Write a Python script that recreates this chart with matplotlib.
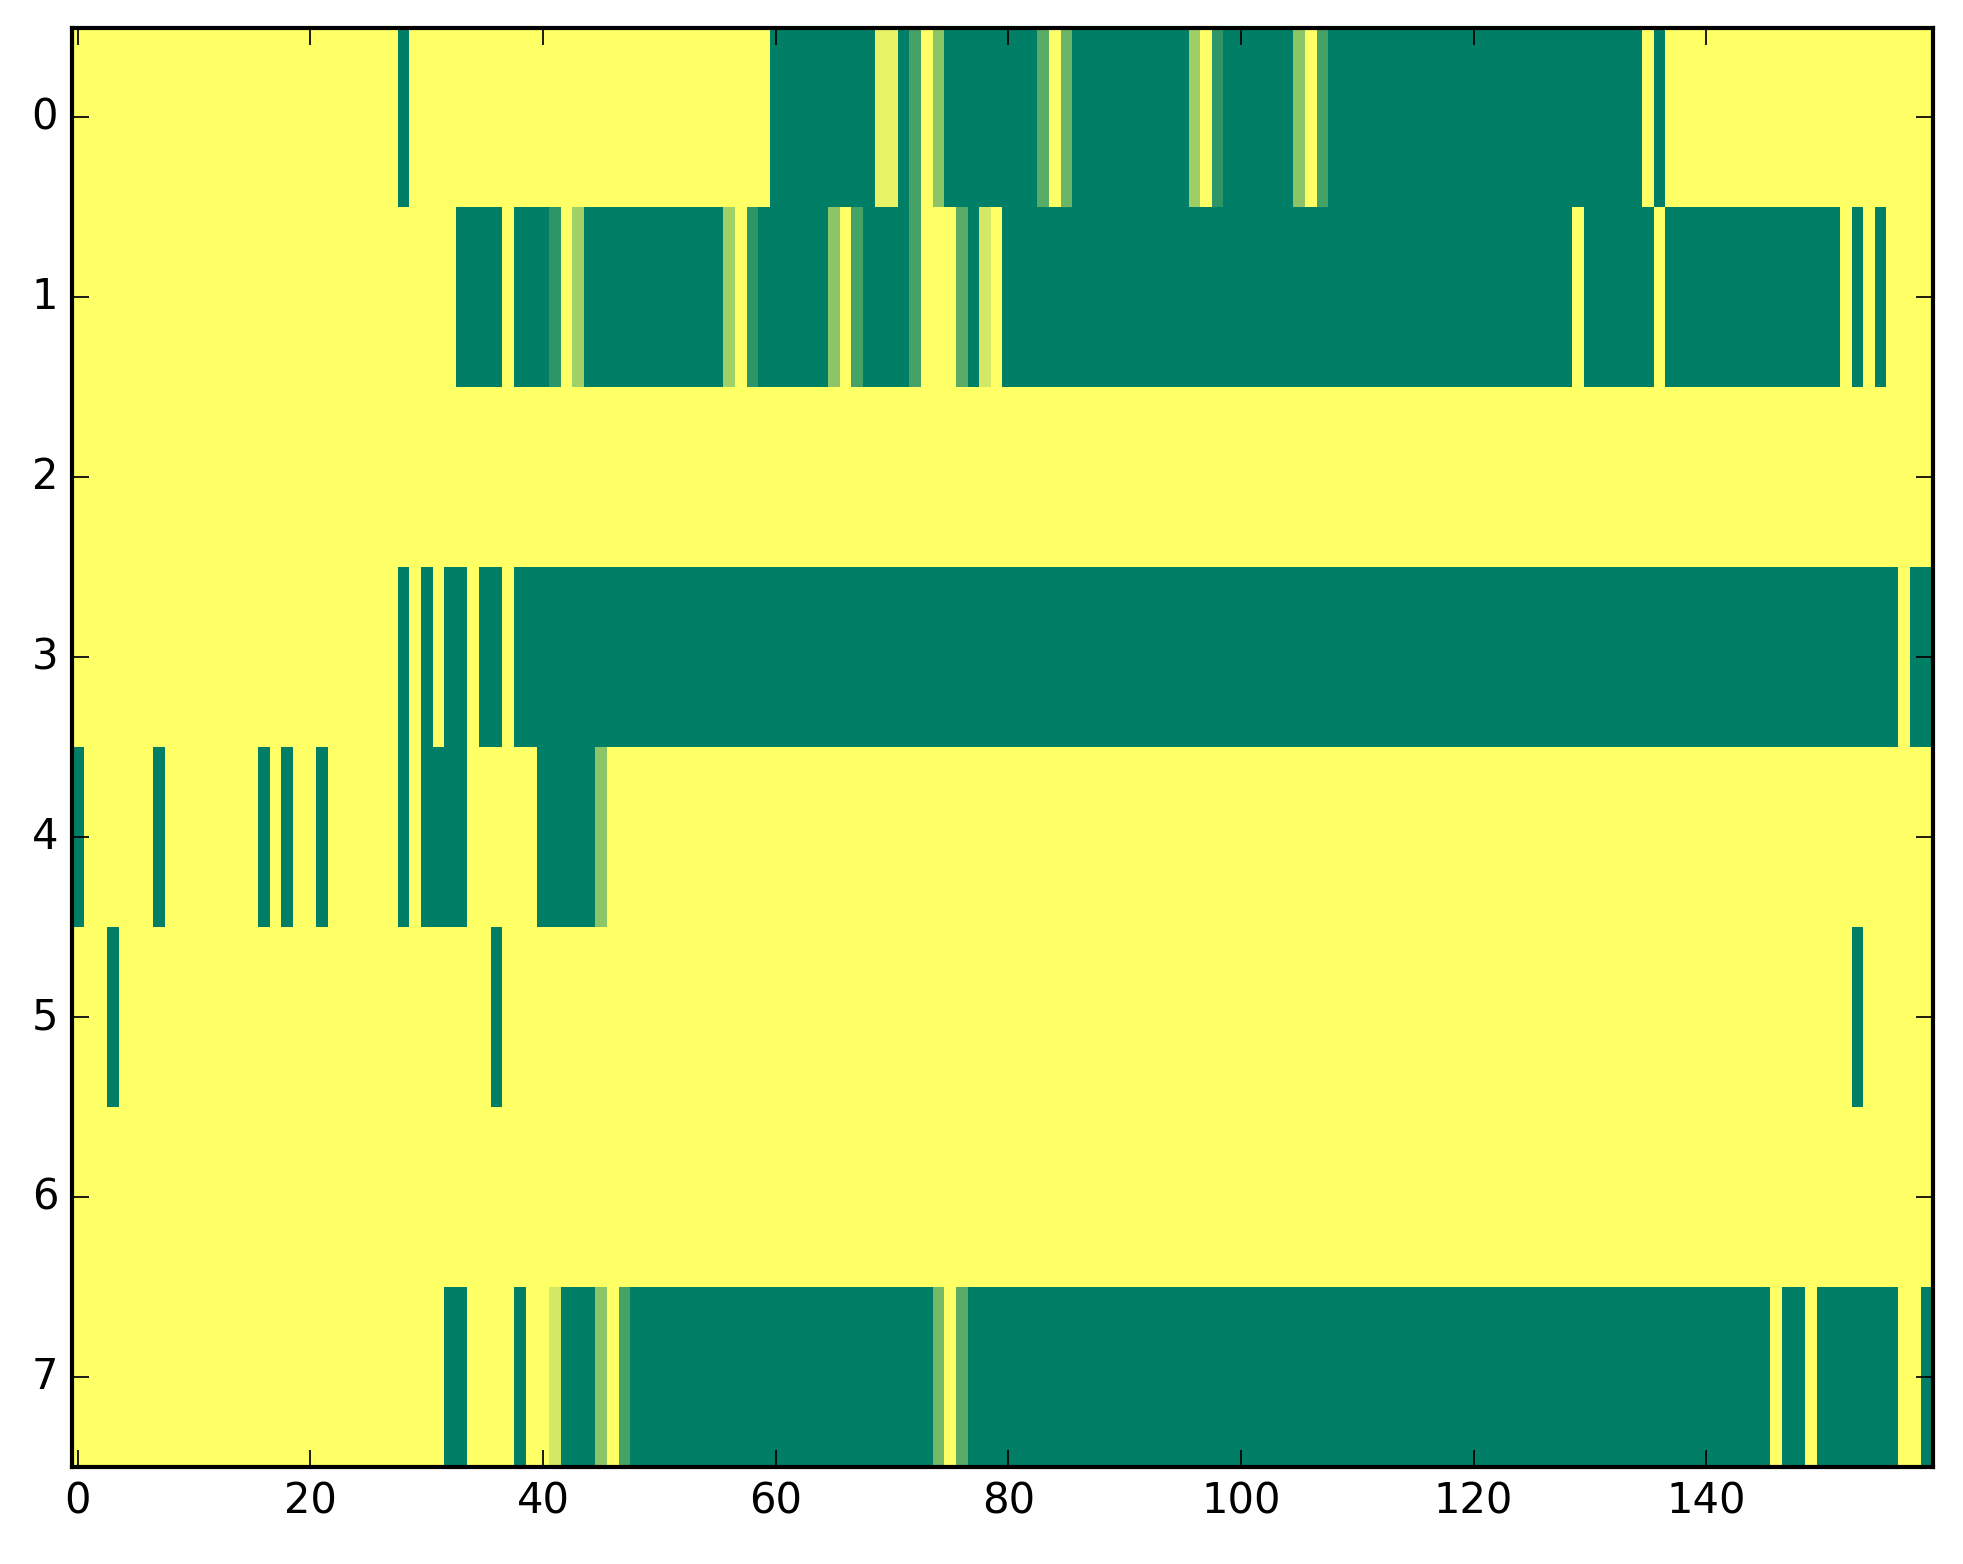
import numpy as np
import matplotlib
matplotlib.use("Agg")
import matplotlib.pyplot as plt

# valores, 8 filas x 160 columnas (0 = verde, 1 = amarillo)
fila0 = [1, 1, 1, 1, 1, 1, 1, 1, 1, 1, 1, 1, 1, 1, 1, 1, 1, 1, 1, 1,
         1, 1, 1, 1, 1, 1, 1, 1, 0, 1, 1, 1, 1, 1, 1, 1, 1, 1, 1, 1,
         1, 1, 1, 1, 1, 1, 1, 1, 1, 1, 1, 1, 1, 1, 1, 1, 1, 1, 1, 1,
         0, 0, 0, 0, 0, 0, 0, 0, 0, .91, .91, 0, .27, 1, .55, 0, 0, 0, 0, 0,
         0, 0, 0, .35, 1, .42, 0, 0, 0, 0, 0, 0, 0, 0, 0, 0, .62, 1, .18, 0,
         0, 0, 0, 0, 0, .55, 1, .27, 0, 0, 0, 0, 0, 0, 0, 0, 0, 0, 0, 0,
         0, 0, 0, 0, 0, 0, 0, 0, 0, 0, 0, 0, 0, 0, 0, 1, 0, 1, 1, 1,
         1, 1, 1, 1, 1, 1, 1, 1, 1, 1, 1, 1, 1, 1, 1, 1, 1, 1, 1, 1]
fila1 = [1, 1, 1, 1, 1, 1, 1, 1, 1, 1, 1, 1, 1, 1, 1, 1, 1, 1, 1, 1,
         1, 1, 1, 1, 1, 1, 1, 1, 1, 1, 1, 1, 1, 0, 0, 0, 0, 1, 0, 0,
         0, .18, 1, .63, 0, 0, 0, 0, 0, 0, 0, 0, 0, 0, 0, 0, .63, 1, .18, 0,
         0, 0, 0, 0, 0, .55, 1, .27, 0, 0, 0, 0, .27, 1, 1, 1, .35, 0, .83, 1,
         0, 0, 0, 0, 0, 0, 0, 0, 0, 0, 0, 0, 0, 0, 0, 0, 0, 0, 0, 0,
         0, 0, 0, 0, 0, 0, 0, 0, 0, 0, 0, 0, 0, 0, 0, 0, 0, 0, 0, 0,
         0, 0, 0, 0, 0, 0, 0, 0, 0, 1, 0, 0, 0, 0, 0, 0, 1, 0, 0, 0,
         0, 0, 0, 0, 0, 0, 0, 0, 0, 0, 0, 0, 1, 0, 1, 0, 1, 1, 1, 1]
fila2 = [1, 1, 1, 1, 1, 1, 1, 1, 1, 1, 1, 1, 1, 1, 1, 1, 1, 1, 1, 1,
         1, 1, 1, 1, 1, 1, 1, 1, 1, 1, 1, 1, 1, 1, 1, 1, 1, 1, 1, 1,
         1, 1, 1, 1, 1, 1, 1, 1, 1, 1, 1, 1, 1, 1, 1, 1, 1, 1, 1, 1,
         1, 1, 1, 1, 1, 1, 1, 1, 1, 1, 1, 1, 1, 1, 1, 1, 1, 1, 1, 1,
         1, 1, 1, 1, 1, 1, 1, 1, 1, 1, 1, 1, 1, 1, 1, 1, 1, 1, 1, 1,
         1, 1, 1, 1, 1, 1, 1, 1, 1, 1, 1, 1, 1, 1, 1, 1, 1, 1, 1, 1,
         1, 1, 1, 1, 1, 1, 1, 1, 1, 1, 1, 1, 1, 1, 1, 1, 1, 1, 1, 1,
         1, 1, 1, 1, 1, 1, 1, 1, 1, 1, 1, 1, 1, 1, 1, 1, 1, 1, 1, 1]
fila3 = [1, 1, 1, 1, 1, 1, 1, 1, 1, 1, 1, 1, 1, 1, 1, 1, 1, 1, 1, 1,
         1, 1, 1, 1, 1, 1, 1, 1, 0, 1, 0, 1, 0, 0, 1, 0, 0, 1, 0, 0,
         0, 0, 0, 0, 0, 0, 0, 0, 0, 0, 0, 0, 0, 0, 0, 0, 0, 0, 0, 0,
         0, 0, 0, 0, 0, 0, 0, 0, 0, 0, 0, 0, 0, 0, 0, 0, 0, 0, 0, 0,
         0, 0, 0, 0, 0, 0, 0, 0, 0, 0, 0, 0, 0, 0, 0, 0, 0, 0, 0, 0,
         0, 0, 0, 0, 0, 0, 0, 0, 0, 0, 0, 0, 0, 0, 0, 0, 0, 0, 0, 0,
         0, 0, 0, 0, 0, 0, 0, 0, 0, 0, 0, 0, 0, 0, 0, 0, 0, 0, 0, 0,
         0, 0, 0, 0, 0, 0, 0, 0, 0, 0, 0, 0, 0, 0, 0, 0, 0, 1, 0, 0]
fila4 = [0, 1, 1, 1, 1, 1, 1, 0, 1, 1, 1, 1, 1, 1, 1, 1, 0, 1, 0, 1,
         1, 0, 1, 1, 1, 1, 1, 1, 0, 1, 0, 0, 0, 0, 1, 1, 1, 1, 1, 1,
         0, 0, 0, 0, 0, .55, 1, 1, 1, 1, 1, 1, 1, 1, 1, 1, 1, 1, 1, 1,
         1, 1, 1, 1, 1, 1, 1, 1, 1, 1, 1, 1, 1, 1, 1, 1, 1, 1, 1, 1,
         1, 1, 1, 1, 1, 1, 1, 1, 1, 1, 1, 1, 1, 1, 1, 1, 1, 1, 1, 1,
         1, 1, 1, 1, 1, 1, 1, 1, 1, 1, 1, 1, 1, 1, 1, 1, 1, 1, 1, 1,
         1, 1, 1, 1, 1, 1, 1, 1, 1, 1, 1, 1, 1, 1, 1, 1, 1, 1, 1, 1,
         1, 1, 1, 1, 1, 1, 1, 1, 1, 1, 1, 1, 1, 1, 1, 1, 1, 1, 1, 1]
fila5 = [1, 1, 1, 0, 1, 1, 1, 1, 1, 1, 1, 1, 1, 1, 1, 1, 1, 1, 1, 1,
         1, 1, 1, 1, 1, 1, 1, 1, 1, 1, 1, 1, 1, 1, 1, 1, 0, 1, 1, 1,
         1, 1, 1, 1, 1, 1, 1, 1, 1, 1, 1, 1, 1, 1, 1, 1, 1, 1, 1, 1,
         1, 1, 1, 1, 1, 1, 1, 1, 1, 1, 1, 1, 1, 1, 1, 1, 1, 1, 1, 1,
         1, 1, 1, 1, 1, 1, 1, 1, 1, 1, 1, 1, 1, 1, 1, 1, 1, 1, 1, 1,
         1, 1, 1, 1, 1, 1, 1, 1, 1, 1, 1, 1, 1, 1, 1, 1, 1, 1, 1, 1,
         1, 1, 1, 1, 1, 1, 1, 1, 1, 1, 1, 1, 1, 1, 1, 1, 1, 1, 1, 1,
         1, 1, 1, 1, 1, 1, 1, 1, 1, 1, 1, 1, 1, 0, 1, 1, 1, 1, 1, 1]
fila6 = [1, 1, 1, 1, 1, 1, 1, 1, 1, 1, 1, 1, 1, 1, 1, 1, 1, 1, 1, 1,
         1, 1, 1, 1, 1, 1, 1, 1, 1, 1, 1, 1, 1, 1, 1, 1, 1, 1, 1, 1,
         1, 1, 1, 1, 1, 1, 1, 1, 1, 1, 1, 1, 1, 1, 1, 1, 1, 1, 1, 1,
         1, 1, 1, 1, 1, 1, 1, 1, 1, 1, 1, 1, 1, 1, 1, 1, 1, 1, 1, 1,
         1, 1, 1, 1, 1, 1, 1, 1, 1, 1, 1, 1, 1, 1, 1, 1, 1, 1, 1, 1,
         1, 1, 1, 1, 1, 1, 1, 1, 1, 1, 1, 1, 1, 1, 1, 1, 1, 1, 1, 1,
         1, 1, 1, 1, 1, 1, 1, 1, 1, 1, 1, 1, 1, 1, 1, 1, 1, 1, 1, 1,
         1, 1, 1, 1, 1, 1, 1, 1, 1, 1, 1, 1, 1, 1, 1, 1, 1, 1, 1, 1]
fila7 = [1, 1, 1, 1, 1, 1, 1, 1, 1, 1, 1, 1, 1, 1, 1, 1, 1, 1, 1, 1,
         1, 1, 1, 1, 1, 1, 1, 1, 1, 1, 1, 1, 0, 0, 1, 1, 1, 1, 0, 1,
         1, .83, 0, 0, 0, .55, 1, .27, 0, 0, 0, 0, 0, 0, 0, 0, 0, 0, 0, 0,
         0, 0, 0, 0, 0, 0, 0, 0, 0, 0, 0, 0, 0, 0, .45, 1, .35, 0, 0, 0,
         0, 0, 0, 0, 0, 0, 0, 0, 0, 0, 0, 0, 0, 0, 0, 0, 0, 0, 0, 0,
         0, 0, 0, 0, 0, 0, 0, 0, 0, 0, 0, 0, 0, 0, 0, 0, 0, 0, 0, 0,
         0, 0, 0, 0, 0, 0, 0, 0, 0, 0, 0, 0, 0, 0, 0, 0, 0, 0, 0, 0,
         0, 0, 0, 0, 0, 0, 1, 0, 0, 1, 0, 0, 0, 0, 0, 0, 0, 1, 1, 0]

matriz = np.array([fila0, fila1, fila2, fila3, fila4, fila5, fila6, fila7])

plt.style.use("classic")
fig = plt.figure(figsize=(1963 / 250, 1564 / 250), dpi=250)
ax = fig.add_axes([0.0367, 0.062, 0.948, 0.9204])
ax.imshow(matriz, cmap="summer", aspect="auto", interpolation="nearest", vmin=0, vmax=1)
ax.set_xlim(-0.5, 159.5)
ax.set_ylim(7.5, -0.5)
ax.tick_params(labelsize=12, length=5)
for s in ax.spines.values():
    s.set_linewidth(1.2)
fig.savefig("out.png", dpi=250)
